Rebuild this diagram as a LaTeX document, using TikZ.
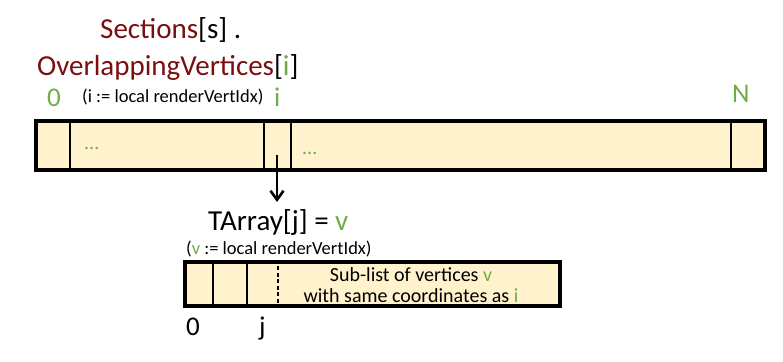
\documentclass[tikz,border=0pt]{standalone}
\usepackage{fontspec}
\setmainfont{Carlito}
\usepackage{xcolor}
\usetikzlibrary{arrows.meta,positioning}
\definecolor{ovRed}{RGB}{123,14,14}
\definecolor{ovGreen}{RGB}{112,173,71}
\definecolor{ovFill}{RGB}{255,242,204}
\tikzset{
  >=Latex,
  arrbox/.style={
    draw=black,
    fill=ovFill,
    line width=4.5pt,
    inner sep=0pt
  },
  divider/.style={
    line width=1.8pt,
    draw=black
  },
  bigtxt/.style={
    inner sep=0pt,
    anchor=base west,
    font=\fontsize{29}{34}\selectfont
  },
  idxlab/.style={
    inner sep=0pt,
    anchor=base west,
    text=ovGreen,
    font=\fontsize{27}{32}\selectfont
  },
  lowidx/.style={
    idxlab,
    text=black
  },
  smalltxt/.style={
    inner sep=0pt,
    anchor=base west,
    font=\fontsize{18.5}{22}\selectfont
  },
  dotstxt/.style={
    inner sep=0pt,
    anchor=base west,
    text=ovGreen,
    font=\fontsize{20}{24}\selectfont
  },
  arrow/.style={
    -{Straight Barb[length=9pt,width=13pt]},
    line width=2.6pt,
    draw=black
  }
}
\begin{document}
\begin{tikzpicture}[x=1pt,y=-1pt]
\useasboundingbox (0,0) rectangle (783,361);

% titles
\node[bigtxt, text=ovRed] (secTitle) at (100,39) {Sections\textcolor{black}{[s] .}};
\node[bigtxt, text=ovRed] (ovTitle) at (37,75)
{OverlappingVertices\textcolor{black}{[}\textcolor{ovGreen}{i}\textcolor{black}{]}};

% top array
\node[idxlab] (idx0) at (47,106) {0};
\node[smalltxt] (iNote) at (82,102) {(i := local renderVertIdx)};
\node[idxlab] (idxI) at (274,106) {i};
\node[idxlab] (idxN) at (732,102) {N};

\node[arrbox, minimum width=729pt, minimum height=49pt] (ovArr) at (400.5,145.5) {};
\foreach \x in {70,264,291,731}
  \draw[divider] (\x,0 |- ovArr.north) -- (\x,0 |- ovArr.south);
\node[dotstxt] (dotsA) at (84,149) {...};
\node[dotstxt] (dotsB) at (302,154) {...};

% lookup into TArray
\coordinate (iCell) at (277,155);
\coordinate (tArrTip) at (277,202);
\draw[arrow] (iCell) -- (tArrTip);

\node[bigtxt] (tTitle) at (208,230) {TArray[j] = \textcolor{ovGreen}{v}};
\node[smalltxt] (vNote) at (186,254) {(\textcolor{ovGreen}{v} := local renderVertIdx)};

% lower array
\node[arrbox, minimum width=375pt, minimum height=44pt] (tArr) at (372.5,284) {};
\foreach \x in {213,247}
  \draw[divider] (\x,0 |- tArr.north) -- (\x,0 |- tArr.south);
\draw[divider, dash pattern=on 4pt off 2.5pt] (278,0 |- tArr.north) -- (278,0 |- tArr.south);
\node[align=center, inner sep=0pt, font=\fontsize{20}{21}\selectfont] (subList) at (411,285.5)
{Sub-list of vertices \textcolor{ovGreen}{v}\\with same coordinates as \textcolor{ovGreen}{i}};

\node[lowidx] (low0) at (186,335) {0};
\node[lowidx] (lowJ) at (259,335) {j};

\end{tikzpicture}
\end{document}
